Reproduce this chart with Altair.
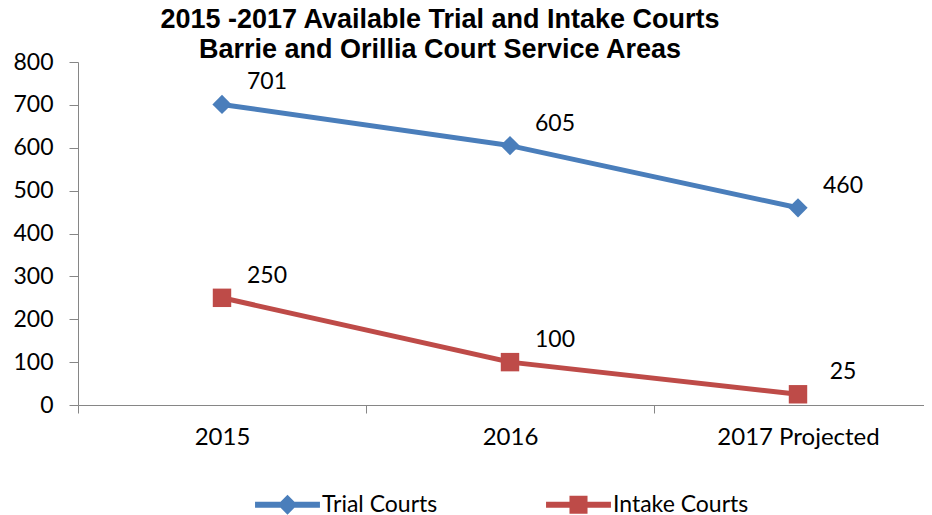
import altair as alt
import pandas as pd

years = ["2015", "2016", "2017 Projected"]
trial = [701, 605, 460]
intake = [250, 100, 25]
series_names = ["Trial Courts", "Intake Courts"]
colors = ["#4A7EBB", "#BE4B48"]

rows = []
for i, (y, v) in enumerate(zip(years, trial)):
    rows.append({"idx": i, "year": y, "value": v, "series": "Trial Courts"})
for i, (y, v) in enumerate(zip(years, intake)):
    rows.append({"idx": i, "year": y, "value": v, "series": "Intake Courts"})
df = pd.DataFrame(rows)

FONT = "Lato"
AXIS_GREY = "#868686"

label_expr = " : ".join(
    f"datum.value == {i} ? '{y}'" for i, y in enumerate(years[:-1])
) + f" : '{years[-1]}'"

x_scale = alt.Scale(domain=[-0.5, 2.4375], nice=False, zero=False)

# axis with tick marks at category boundaries (no labels)
x_ticks_axis = alt.Axis(
    title=None, orient="bottom", values=[-0.5, 0.5, 1.5, 2.5], labels=False,
    tickSize=8, domainColor=AXIS_GREY, tickColor=AXIS_GREY, grid=False,
)
# axis with category labels centred (no ticks)
x_label_axis = alt.Axis(
    title=None, orient="bottom", values=list(range(len(years))), labelExpr=label_expr,
    ticks=False, domain=False, labelPadding=20, labelAngle=0,
    labelFont=FONT, labelFontSize=24, labelColor="black", grid=False,
)

y_axis = alt.Axis(
    title=None, values=list(range(0, 801, 100)), tickSize=9,
    labelPadding=16, labelFont=FONT, labelFontSize=23, labelColor="black",
    domainColor=AXIS_GREY, tickColor=AXIS_GREY, grid=False,
)
y_scale = alt.Scale(domain=[0, 800], nice=False)
color_scale = alt.Scale(domain=series_names, range=colors)

x_none = alt.X("idx:Q", scale=x_scale, axis=None)
y_enc = alt.Y("value:Q", scale=y_scale, axis=y_axis)

base = alt.Chart(df)

# legend symbols: a short line with the marker in the middle (unit = 11px)
diamond_path = "M-2.95,-0.27L2.95,-0.27L2.95,0.27L-2.95,0.27Z M0,-0.9L0.9,0L0,0.9L-0.9,0Z"
square_path = "M-2.95,-0.27L2.95,-0.27L2.95,0.27L-2.95,0.27Z M-0.82,-0.82L0.82,-0.82L0.82,0.82L-0.82,0.82Z"

legend_props = dict(
    title=None, orient="none", direction="horizontal", legendX=198, legendY=431,
    symbolSize=484, labelFont=FONT, labelFontSize=23, labelColor="black",
    columnPadding=108, labelOffset=23, symbolStrokeWidth=0, symbolOpacity=1,
)

legend_layer = base.mark_point(filled=True, opacity=0, size=1).encode(
    x=x_none, y=y_enc,
    color=alt.Color("series:N", scale=color_scale, legend=alt.Legend(**legend_props)),
    shape=alt.Shape(
        "series:N",
        scale=alt.Scale(domain=series_names, range=[diamond_path, square_path]),
        legend=alt.Legend(**legend_props),
    ),
)

lines = base.mark_line(strokeWidth=5).encode(
    x=alt.X("idx:Q", scale=x_scale, axis=x_ticks_axis),
    y=y_enc,
    color=alt.Color("series:N", scale=color_scale, legend=None),
    detail="series:N",
)

pts_trial = base.transform_filter(alt.datum.series == "Trial Courts").mark_point(
    shape="diamond", filled=True, size=370, opacity=1
).encode(x=x_none, y=y_enc, color=alt.Color("series:N", scale=color_scale, legend=None))

pts_intake = base.transform_filter(alt.datum.series == "Intake Courts").mark_point(
    shape="square", filled=True, size=340, opacity=1
).encode(x=x_none, y=y_enc, color=alt.Color("series:N", scale=color_scale, legend=None))

labels = base.mark_text(
    font=FONT, fontSize=23, color="black", dx=45, dy=-22, align="center", baseline="middle"
).encode(
    x=alt.X("idx:Q", scale=x_scale, axis=x_label_axis),
    y=y_enc,
    text="value:Q",
)

chart = alt.layer(legend_layer, lines, pts_trial, pts_intake, labels).resolve_axis(
    x="independent"
).properties(
    width=846,
    height=343,
    title=alt.Title(
        ["2015 -2017 Available Trial and Intake Courts", "Barrie and Orillia Court Service Areas"],
        font="Liberation Sans", fontSize=27, fontWeight="bold", color="black",
        anchor="middle", dx=-61, offset=-13, lineHeight=30,
    ),
    autosize=alt.AutoSizeParams(type="none"),
    padding={"left": 70, "top": 54, "right": 0, "bottom": 110},
).configure_view(stroke=None)

chart.save("out.html", embed_options={"renderer": "svg", "actions": False})
